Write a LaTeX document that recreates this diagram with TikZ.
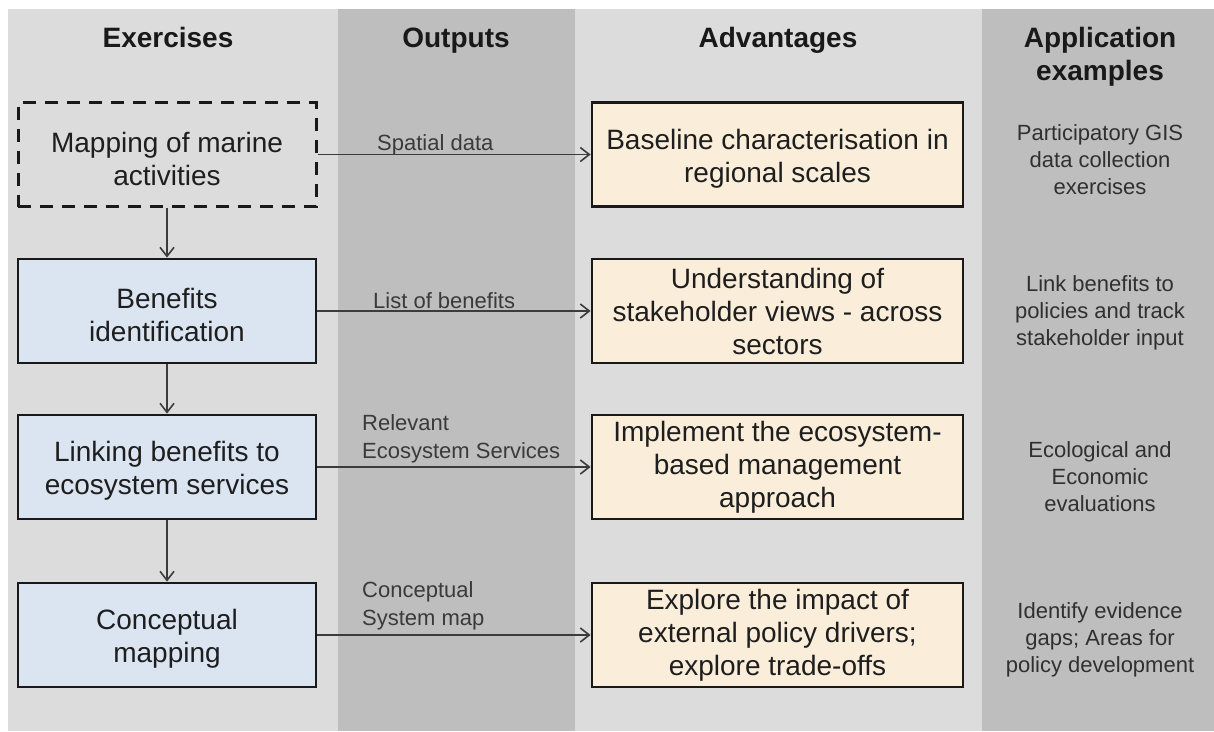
\documentclass[tikz,border=0pt]{standalone}
\usepackage{fontspec}
\setmainfont{Liberation Sans}
\usetikzlibrary{arrows.meta}
\definecolor{colA}{HTML}{DCDCDC}
\definecolor{colB}{HTML}{BEBEBE}
\definecolor{exblue}{HTML}{DBE5F1}
\definecolor{advcream}{HTML}{FAEEDB}
\definecolor{txtdark}{HTML}{1E1E1E}
\definecolor{labgray}{HTML}{3A3A3A}
\definecolor{appgray}{HTML}{303030}
\definecolor{arrgray}{HTML}{3C3C3C}
\begin{document}
\begin{tikzpicture}[x=1pt,y=-1pt,
  boxbase/.style={draw=black!90, line width=2.8pt, minimum height=104pt, inner sep=0pt},
  exbox/.style={boxbase, fill=exblue, minimum width=298pt},
  exdash/.style={boxbase, fill=colA, minimum width=298pt, dash pattern=on 13pt off 9pt, line width=3pt},
  advbox/.style={boxbase, fill=advcream, minimum width=371pt},
  boxtxt/.style={align=center, inner sep=0pt, text=txtdark, font=\fontsize{28}{33}\selectfont},
  twoline/.style={boxtxt, yshift=-4pt},
  header/.style={font=\bfseries\fontsize{28}{33}\selectfont, align=center, text=black!90, inner sep=0pt},
  outlab/.style={font=\fontsize{22}{28}\selectfont, align=left, anchor=west, text=labgray, inner sep=0pt},
  applab/.style={font=\fontsize{22}{27}\selectfont, align=center, text=appgray, inner sep=0pt},
  arr/.style={draw=arrgray, line width=1.6pt, -{Straight Barb[length=9pt,width=14pt,line width=1.6pt]}}
]
\useasboundingbox (0,0) rectangle (1214,731);
\fill[white] (0,0) rectangle (1214,731);
% column bands
\fill[colA] (8,9) rectangle (338,731);
\fill[colB] (338,9) rectangle (575,731);
\fill[colA] (575,9) rectangle (982,731);
\fill[colB] (982,9) rectangle (1214,731);

% headers
\node[header, anchor=base] (h1) at (168,47) {Exercises};
\node[header, anchor=base] (h2) at (456,47) {Outputs};
\node[header, anchor=base] (h3) at (778,47) {Advantages};
\node[header] (h4) at (1100,56.5) {Application\\examples};

% exercise boxes
\node[exdash] (e1) at (167,154.5) {};
\node[exbox] (e2) at (167,311) {};
\node[exbox] (e3) at (167,467) {};
\node[exbox] (e4) at (167,635) {};

% advantage boxes
\node[advbox] (a1) at (777.5,154.5) {};
\node[advbox] (a2) at (777.5,311) {};
\node[advbox] (a3) at (777.5,467) {};
\node[advbox] (a4) at (777.5,635) {};

% box texts
\node[twoline] (t1) at (e1.center) {Mapping of marine\\activities};
\node[twoline] (t2) at (e2.center) {Benefits\\identification};
\node[twoline] (t3) at (e3.center) {Linking benefits to\\ecosystem services};
\node[twoline] (t4) at (e4.center) {Conceptual\\mapping};
\node[twoline] (u1) at (a1.center) {Baseline characterisation in\\regional scales};
\node[boxtxt] (u2) at (a2.center) {Understanding of\\stakeholder views - across\\sectors};
\node[boxtxt] (u3) at (a3.center) {Implement the ecosystem-\\based management\\approach};
\node[boxtxt] (u4) at (a4.center) {Explore the impact of\\external policy drivers;\\explore trade-offs};

% output labels
\node[outlab] (o1) at (377,145) {Spatial data};
\node[outlab] (o2) at (373,301) {List of benefits};
\node[outlab] (o3) at (362,439) {Relevant\\Ecosystem Services};
\node[outlab] (o4) at (362,606) {Conceptual\\System map};

% application examples
\node[applab] (p1) at (1100,160) {Participatory GIS\\data collection\\exercises};
\node[applab] (p2) at (1100,313) {Link benefits to\\policies and track\\stakeholder input};
\node[applab] (p3) at (1100,477) {Ecological and\\Economic\\evaluations};
\node[applab] (p4) at (1100,640) {Identify evidence\\gaps; Areas for\\policy development};

% connectors
\draw[arr] (e1.south) -- (e2.north);
\draw[arr] (e2.south) -- (e3.north);
\draw[arr] (e3.south) -- (e4.north);
\draw[arr] (e1.east) -- (a1.west);
\draw[arr] (e2.east) -- (a2.west);
\draw[arr] (e3.east) -- (a3.west);
\draw[arr] (e4.east) -- (a4.west);
\end{tikzpicture}
\end{document}
